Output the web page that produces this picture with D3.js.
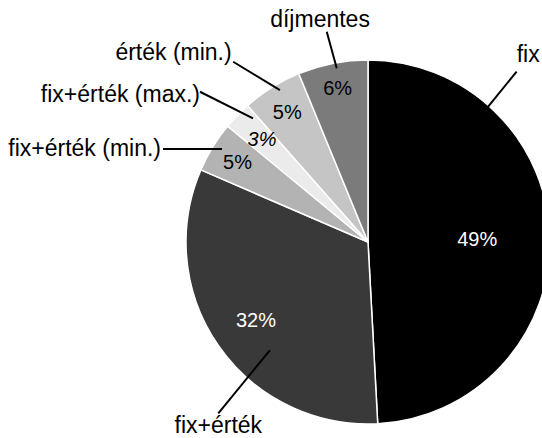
<!DOCTYPE html>
<html>
<head>
<meta charset="utf-8">
<script src="https://cdn.jsdelivr.net/npm/d3@7"></script>
<style>
html,body{margin:0;padding:0;background:#fff;}
svg{display:block;}
text{font-family:"Liberation Sans",Arial,sans-serif;}
</style>
</head>
<body>
<svg id="chart" width="542" height="438"></svg>
<script>
// ---- data ----
const categories = ["fix", "fix+érték", "fix+érték (min.)", "fix+érték (max.)", "érték (min.)", "díjmentes"];
const values = [49.1, 32.3, 4.5, 2.5, 5.3, 6.2];
const colors = ["#000000", "#393939", "#b3b3b3", "#ebebeb", "#c5c5c5", "#7b7b7b"];

// ---- layout ----
const W = 542, H = 438;
const cx = 368, cy = 242, R = 182;
const pctRadius = [0.6, 0.75, 0.84, 0.81, 0.84, 0.86];
const pctColor = ["#fff", "#fff", "#000", "#000", "#000", "#000"];
const pctItalic = [false, false, false, true, false, false];
// leader lines in polar terms (angle deg clockwise from top, radius px), text offsets from outer end
const leaders = [
  {a1: 41.6, r1: 178.8, a2: 41.1, r2: 226.1, anchor: "start", dx: 0, dy: -10},
  {a1: 222.2, r1: 145.8, a2: 221.15, r2: 227.5, anchor: "middle", dx: 0, dy: 20},
  {a1: 302.5, r1: 173.1, a2: 294.4, r2: 225.1, anchor: "end", dx: -2, dy: 7},
  {a1: 317.1, r1: 168.9, a2: 311.8, r2: 225.4, anchor: "end", dx: 0, dy: 10},
  {a1: 329.9, r1: 175.6, a2: 323.2, r2: 225.1, anchor: "end", dx: -1.5, dy: -1.7},
  {a1: 349.8, r1: 176.5, a2: 348.9, r2: 214.3, anchor: "middle", dx: -6.7, dy: -4.7}
];

const svg = d3.select("#chart");
const g = svg.append("g").attr("transform", `translate(${cx},${cy})`);

const pie = d3.pie().sort(null).value(d => d)(values);
const arc = d3.arc().innerRadius(0).outerRadius(R);

g.selectAll("path.slice").data(pie).join("path")
  .attr("class", "slice")
  .attr("d", arc)
  .attr("fill", (d, i) => colors[i])
  .attr("stroke", "#fff")
  .attr("stroke-width", 1.5)
  .attr("stroke-linejoin", "round");

// percentage labels
g.selectAll("text.pct").data(pie).join("text")
  .attr("class", "pct")
  .attr("transform", (d, i) => {
    const r = pctRadius[i] * R;
    const c = d3.arc().innerRadius(r).outerRadius(r).centroid(d);
    return `translate(${c[0]},${c[1] + 7})`;
  })
  .attr("text-anchor", "middle")
  .attr("font-size", 20)
  .attr("font-style", (d, i) => pctItalic[i] ? "italic" : "normal")
  .attr("fill", (d, i) => pctColor[i])
  .text(d => Math.round(d.data) + "%");

// leader lines and category labels
const rad = a => a * Math.PI / 180;
leaders.forEach((L, i) => {
  const p1 = d3.pointRadial(rad(L.a1), L.r1);
  const p2 = d3.pointRadial(rad(L.a2), L.r2);
  g.append("line")
    .attr("x1", p1[0]).attr("y1", p1[1])
    .attr("x2", p2[0]).attr("y2", p2[1])
    .attr("stroke", "#000").attr("stroke-width", 2);
  g.append("text")
    .attr("x", p2[0] + L.dx).attr("y", p2[1] + L.dy)
    .attr("text-anchor", L.anchor)
    .attr("font-size", 23)
    .attr("fill", "#000")
    .text(categories[i]);
});
</script>
</body>
</html>
